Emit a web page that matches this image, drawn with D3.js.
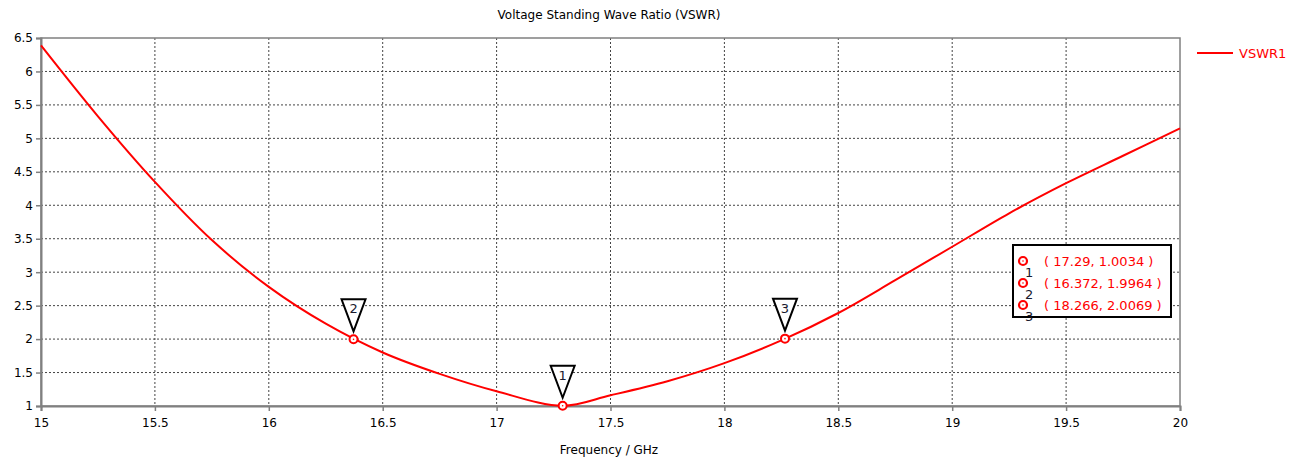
<!DOCTYPE html>
<html>
<head>
<meta charset="utf-8">
<script src="https://cdn.jsdelivr.net/npm/d3@7"></script>
<style>
  body { margin: 0; background: #fff; }
  text { font-family: "DejaVu Sans", sans-serif; }
</style>
</head>
<body>
<div id="chart"></div>
<script>
// curve (frequency in GHz, VSWR)
var freq = [15, 15.25, 15.5, 15.75, 16, 16.25, 16.5, 16.75, 17, 17.29, 17.5, 17.75, 18, 18.25, 18.5, 18.75, 19, 19.25, 19.5, 19.75, 20];
var vswr = [6.39, 5.33, 4.35, 3.48, 2.78, 2.23, 1.8, 1.48, 1.22, 1.0034, 1.16, 1.37, 1.64, 1.98, 2.39, 2.88, 3.38, 3.88, 4.33, 4.74, 5.15];

var markerIds = ["1", "2", "3"];
var markerFreq = [17.29, 16.372, 18.266];
var markerVal = [1.0034, 1.9964, 2.0069];

var xTicks = [15, 15.5, 16, 16.5, 17, 17.5, 18, 18.5, 19, 19.5, 20];
var yTicks = [1, 1.5, 2, 2.5, 3, 3.5, 4, 4.5, 5, 5.5, 6, 6.5];

var width = 1303, height = 459;
var margin = { top: 38, right: 123, bottom: 53, left: 41 };
var red = "#ff0000";

var svg = d3.select("#chart").append("svg")
    .attr("width", width)
    .attr("height", height);

var x = d3.scaleLinear().domain([15, 20]).range([margin.left, width - margin.right]);
var y = d3.scaleLinear().domain([1, 6.5]).range([height - margin.bottom, margin.top]);

// grid
svg.append("g").selectAll("line")
    .data(xTicks.slice(1, -1))
    .enter().append("line")
    .attr("x1", d => x(d)).attr("x2", d => x(d))
    .attr("y1", y(6.5)).attr("y2", y(1))
    .attr("stroke", "#444").attr("stroke-dasharray", "2,2");
svg.append("g").selectAll("line")
    .data(yTicks.slice(1, -1))
    .enter().append("line")
    .attr("x1", x(15)).attr("x2", x(20))
    .attr("y1", d => y(d)).attr("y2", d => y(d))
    .attr("stroke", "#444").attr("stroke-dasharray", "2,2");

// frame
svg.append("rect")
    .attr("x", x(15)).attr("y", y(6.5))
    .attr("width", x(20) - x(15)).attr("height", y(1) - y(6.5))
    .attr("fill", "none").attr("stroke", "#808080").attr("stroke-width", 1.5);

// axes
var xAxis = svg.append("g")
    .attr("transform", "translate(0," + y(1) + ")")
    .call(d3.axisBottom(x).tickValues(xTicks).tickFormat(d3.format("")).tickSize(5).tickPadding(7));
var yAxis = svg.append("g")
    .attr("transform", "translate(" + x(15) + ",0)")
    .call(d3.axisLeft(y).tickValues(yTicks).tickFormat(d3.format("")).tickSize(5).tickPadding(3));
[xAxis, yAxis].forEach(function (a) {
    a.select(".domain").attr("stroke", "#808080").attr("stroke-width", 2);
    a.selectAll(".tick line").attr("stroke", "#808080").attr("stroke-width", 1.5);
    a.selectAll("text").style("font-size", "12px").attr("fill", "#000");
});

// curve
var pts = freq.map((f, i) => [f, vswr[i]]);
svg.append("path")
    .datum(pts)
    .attr("fill", "none")
    .attr("stroke", red)
    .attr("stroke-width", 2)
    .attr("d", d3.line().x(d => x(d[0])).y(d => y(d[1])).curve(d3.curveCatmullRom));

// markers
var mk = svg.append("g").selectAll("g")
    .data(markerIds)
    .enter().append("g")
    .attr("transform", (d, i) => "translate(" + x(markerFreq[i]) + "," + y(markerVal[i]) + ")");
mk.append("path")
    .attr("d", "M-12,-40 L12,-40 L0,-8 Z")
    .attr("fill", "#fff").attr("stroke", "#000").attr("stroke-width", 2);
mk.append("text")
    .attr("y", -26).attr("text-anchor", "middle")
    .style("font-size", "13px").attr("fill", "#1a1a2e")
    .text(d => d);
mk.append("circle").attr("r", 4).attr("fill", "#fff").attr("stroke", red).attr("stroke-width", 2);
mk.append("circle").attr("r", 0.8).attr("fill", red);

// marker table
var box = svg.append("g").attr("transform", "translate(1013,245)");
box.append("rect")
    .attr("width", 158).attr("height", 72)
    .attr("fill", "#fff").attr("stroke", "#000").attr("stroke-width", 2);
var rows = box.selectAll("g.row")
    .data(markerIds)
    .enter().append("g")
    .attr("transform", (d, i) => "translate(0," + (16 + i * 22) + ")");
rows.append("circle").attr("cx", 10).attr("r", 4).attr("fill", "#fff").attr("stroke", red).attr("stroke-width", 2.2);
rows.append("circle").attr("cx", 10).attr("r", 0.8).attr("fill", red);
rows.append("text")
    .attr("x", 12).attr("y", 16)
    .style("font-size", "13px").attr("fill", "#1a1a2e")
    .text(d => d);
rows.append("text")
    .attr("x", 31).attr("y", 5)
    .style("font-size", "13px").attr("fill", red)
    .text((d, i) => "( " + markerFreq[i] + ", " + markerVal[i] + " )");

// legend
svg.append("line")
    .attr("x1", 1197).attr("x2", 1233).attr("y1", 53).attr("y2", 53)
    .attr("stroke", red).attr("stroke-width", 2);
svg.append("text")
    .attr("x", 1239).attr("y", 58)
    .style("font-size", "13px").attr("fill", red)
    .text("VSWR1");

// titles
svg.append("text")
    .attr("x", 609).attr("y", 19).attr("text-anchor", "middle")
    .style("font-size", "12px").attr("fill", "#000")
    .text("Voltage Standing Wave Ratio (VSWR)");
svg.append("text")
    .attr("x", 609).attr("y", 454).attr("text-anchor", "middle")
    .style("font-size", "12px").attr("fill", "#000")
    .text("Frequency / GHz");
</script>
</body>
</html>
